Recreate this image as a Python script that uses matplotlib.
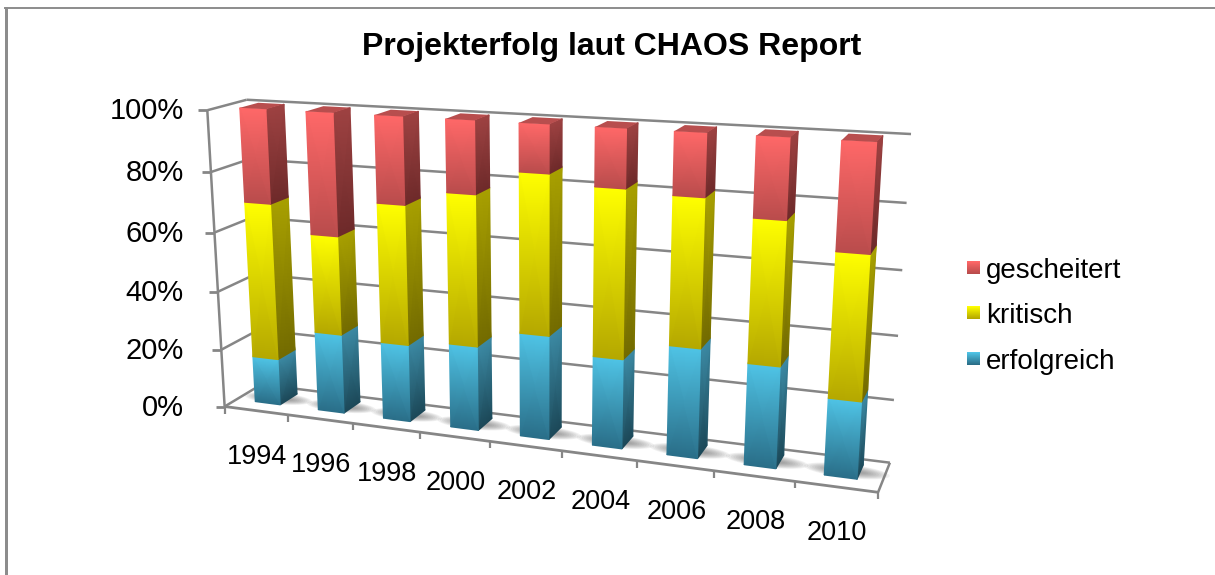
import numpy as np
import matplotlib
matplotlib.use("Agg")
import matplotlib.pyplot as plt
from matplotlib.colors import LinearSegmentedColormap

plt.rcParams['font.family'] = ['Liberation Sans', 'DejaVu Sans']

years = ['1994', '1996', '1998', '2000', '2002', '2004', '2006', '2008', '2010']
erfolgreich = [16, 27, 26, 28, 34, 29, 35, 32, 24]
kritisch = [53, 33, 46, 49, 51, 53, 46, 44, 44]
gescheitert = [31, 40, 28, 23, 15, 18, 19, 24, 32]
pct_ticks = [0, 20, 40, 60, 80, 100]

GRID = '#868686'
BAR_W = 0.40
D0, D1 = 0.32, 0.8

# colours: front top, front bottom, side top, side bottom, lid
red = ('#FF6868', '#B94C4C', '#9E4242', '#6E2A2A', '#B84E4E')
yellow = ('#FFFF00', '#B5A800', '#A8A000', '#736B00', '#A8A000')
blue = ('#4FC4E6', '#2A6E88', '#3C8AA4', '#1C4858', '#3C8AA4')


def fit_camera():
    world = [(0, 0, 0), (0, 1, 0), (1, 0, 0), (0, 0, 1), (0, 1, 1), (1, 0, 1), (1, 1, 1)]
    pix = [(225, 407), (207, 110), (878, 492), (261, 384), (247, 100), (890, 463), (911, 134)]
    rows = []
    for (a, b, c), (px, py) in zip(world, pix):
        rows.append([a, b, c, 1, 0, 0, 0, 0, -px * a, -px * b, -px * c, -px])
        rows.append([0, 0, 0, 0, a, b, c, 1, -py * a, -py * b, -py * c, -py])
    return np.linalg.svd(np.array(rows, float))[2][-1].reshape(3, 4)


CAM = fit_camera()


def project(u, z, d):
    u, z, d = np.broadcast_arrays(np.asarray(u, float), np.asarray(z, float) / 100.0, np.asarray(d, float))
    w = CAM[2, 0] * u + CAM[2, 1] * z + CAM[2, 2] * d + CAM[2, 3]
    x = (CAM[0, 0] * u + CAM[0, 1] * z + CAM[0, 2] * d + CAM[0, 3]) / w
    y = (CAM[1, 0] * u + CAM[1, 1] * z + CAM[1, 2] * d + CAM[1, 3]) / w
    return x, y


def line3(ax, a, b, lw=1.8):
    xa, ya = project(*a)
    xb, yb = project(*b)
    ax.plot([xa, xb], [ya, yb], color=GRID, lw=lw, solid_capstyle='butt', zorder=1)


def gradient_face(ax, p_left, p_right, z0, z1, top_col, bot_col):
    # vertical face between two (u, d) columns, shaded from bottom to top
    us = np.array([[p_left[0], p_right[0]]] * 2)
    ds = np.array([[p_left[1], p_right[1]]] * 2)
    zs = np.array([[z0, z0], [z1, z1]])
    X, Y = project(us, zs, ds)
    cmap = LinearSegmentedColormap.from_list('f', [bot_col, top_col])
    ax.pcolormesh(X, Y, np.array([[0, 0], [1, 1]]), cmap=cmap, vmin=0, vmax=1,
                  shading='gouraud', zorder=3)


def draw_segment(ax, u0, u1, z0, z1, cols, lid=False):
    gradient_face(ax, (u1, D0), (u1, D1), z0, z1, cols[2], cols[3])
    gradient_face(ax, (u0, D0), (u1, D0), z0, z1, cols[0], cols[1])
    if lid:
        x, y = project([u0, u1, u1, u0], [z1] * 4, [D0, D0, D1, D1])
        ax.fill(x, y, color=cols[4], lw=0, zorder=3)


def draw_shadow(ax, u0, u1):
    # soft grey smear on the floor, wider than the bar
    cu = (u0 + u1) / 2 + 0.004
    t = np.linspace(0, 2 * np.pi, 48)
    for k in range(10):
        ru = (u1 - u0) / 2 + 0.036 * (1 - k / 10)
        rd = 0.22 * (1 - k / 12)
        x, y = project(cu + ru * np.cos(t), 0 * t, 0.55 + rd * np.sin(t))
        ax.fill(x, y, color='#707070', alpha=0.09, lw=0, zorder=2)


fig = plt.figure(figsize=(12.15, 5.75), dpi=100)
ax = fig.add_axes([0, 0, 1, 1])
ax.set_xlim(0, 1215)
ax.set_ylim(575, 0)
ax.axis('off')

# picture frame
ax.fill([5, 8, 8, 5], [7, 7, 575, 575], color='#8C8C8C', lw=0)
ax.plot([5, 1215], [7.5, 7.5], color='#8C8C8C', lw=1.4)

# walls and floor
for p in pct_ticks:
    line3(ax, (0, p, 0), (0, p, 1))
    line3(ax, (0, p, 1), (1, p, 1))
    x, y = project(0, p, 0)
    ax.plot([x - 9, x], [y, y], color=GRID, lw=2, solid_capstyle='butt')
    ax.text(184, float(y) + 1, f'{p}%', ha='right', va='center', fontsize=21)
line3(ax, (0, 0, 0), (0, 100, 0))
line3(ax, (0, 0, 0), (1, 0, 0), lw=2)
line3(ax, (1, 0, 0), (1, 0, 1))

n = len(years)
for i in range(n + 1):
    x, y = project(i / n, 0, 0)
    ax.plot([x, x], [y, y + 7], color=GRID, lw=1.6, solid_capstyle='butt')

for i, year in enumerate(years):
    x, y = project((i + 0.5) / n, 0, 0)
    ax.text(float(x) + 1, float(y) + 46, year, ha='center', va='center', fontsize=19.5)

# bars, left to right
for i in range(n):
    u0 = (i + 0.5 - BAR_W / 2) / n
    u1 = (i + 0.5 + BAR_W / 2) / n
    draw_shadow(ax, u0, u1)
    e, k, g = erfolgreich[i], kritisch[i], gescheitert[i]
    draw_segment(ax, u0, u1, 0, e, blue)
    draw_segment(ax, u0, u1, e, e + k, yellow)
    draw_segment(ax, u0, u1, e + k, e + k + g, red, lid=True)

ax.text(612, 47, 'Projekterfolg laut CHAOS Report', ha='center', va='center',
        fontsize=23, fontweight='bold')

# legend
legend_names = ['gescheitert', 'kritisch', 'erfolgreich']
legend_cols = [red, yellow, blue]
legend_y = [268, 313, 359]
for name, cols, ly in zip(legend_names, legend_cols, legend_y):
    cmap = LinearSegmentedColormap.from_list('l', [cols[0], cols[1]])
    ax.imshow(np.linspace(0, 1, 13)[:, None], cmap=cmap, extent=(967, 980, ly + 6.5, ly - 6.5),
              aspect='auto', zorder=3)
    ax.text(986, ly + 3, name, ha='left', va='center', fontsize=20)

ax.set_xlim(0, 1215)
ax.set_ylim(575, 0)
fig.savefig('out.png', dpi=100)
